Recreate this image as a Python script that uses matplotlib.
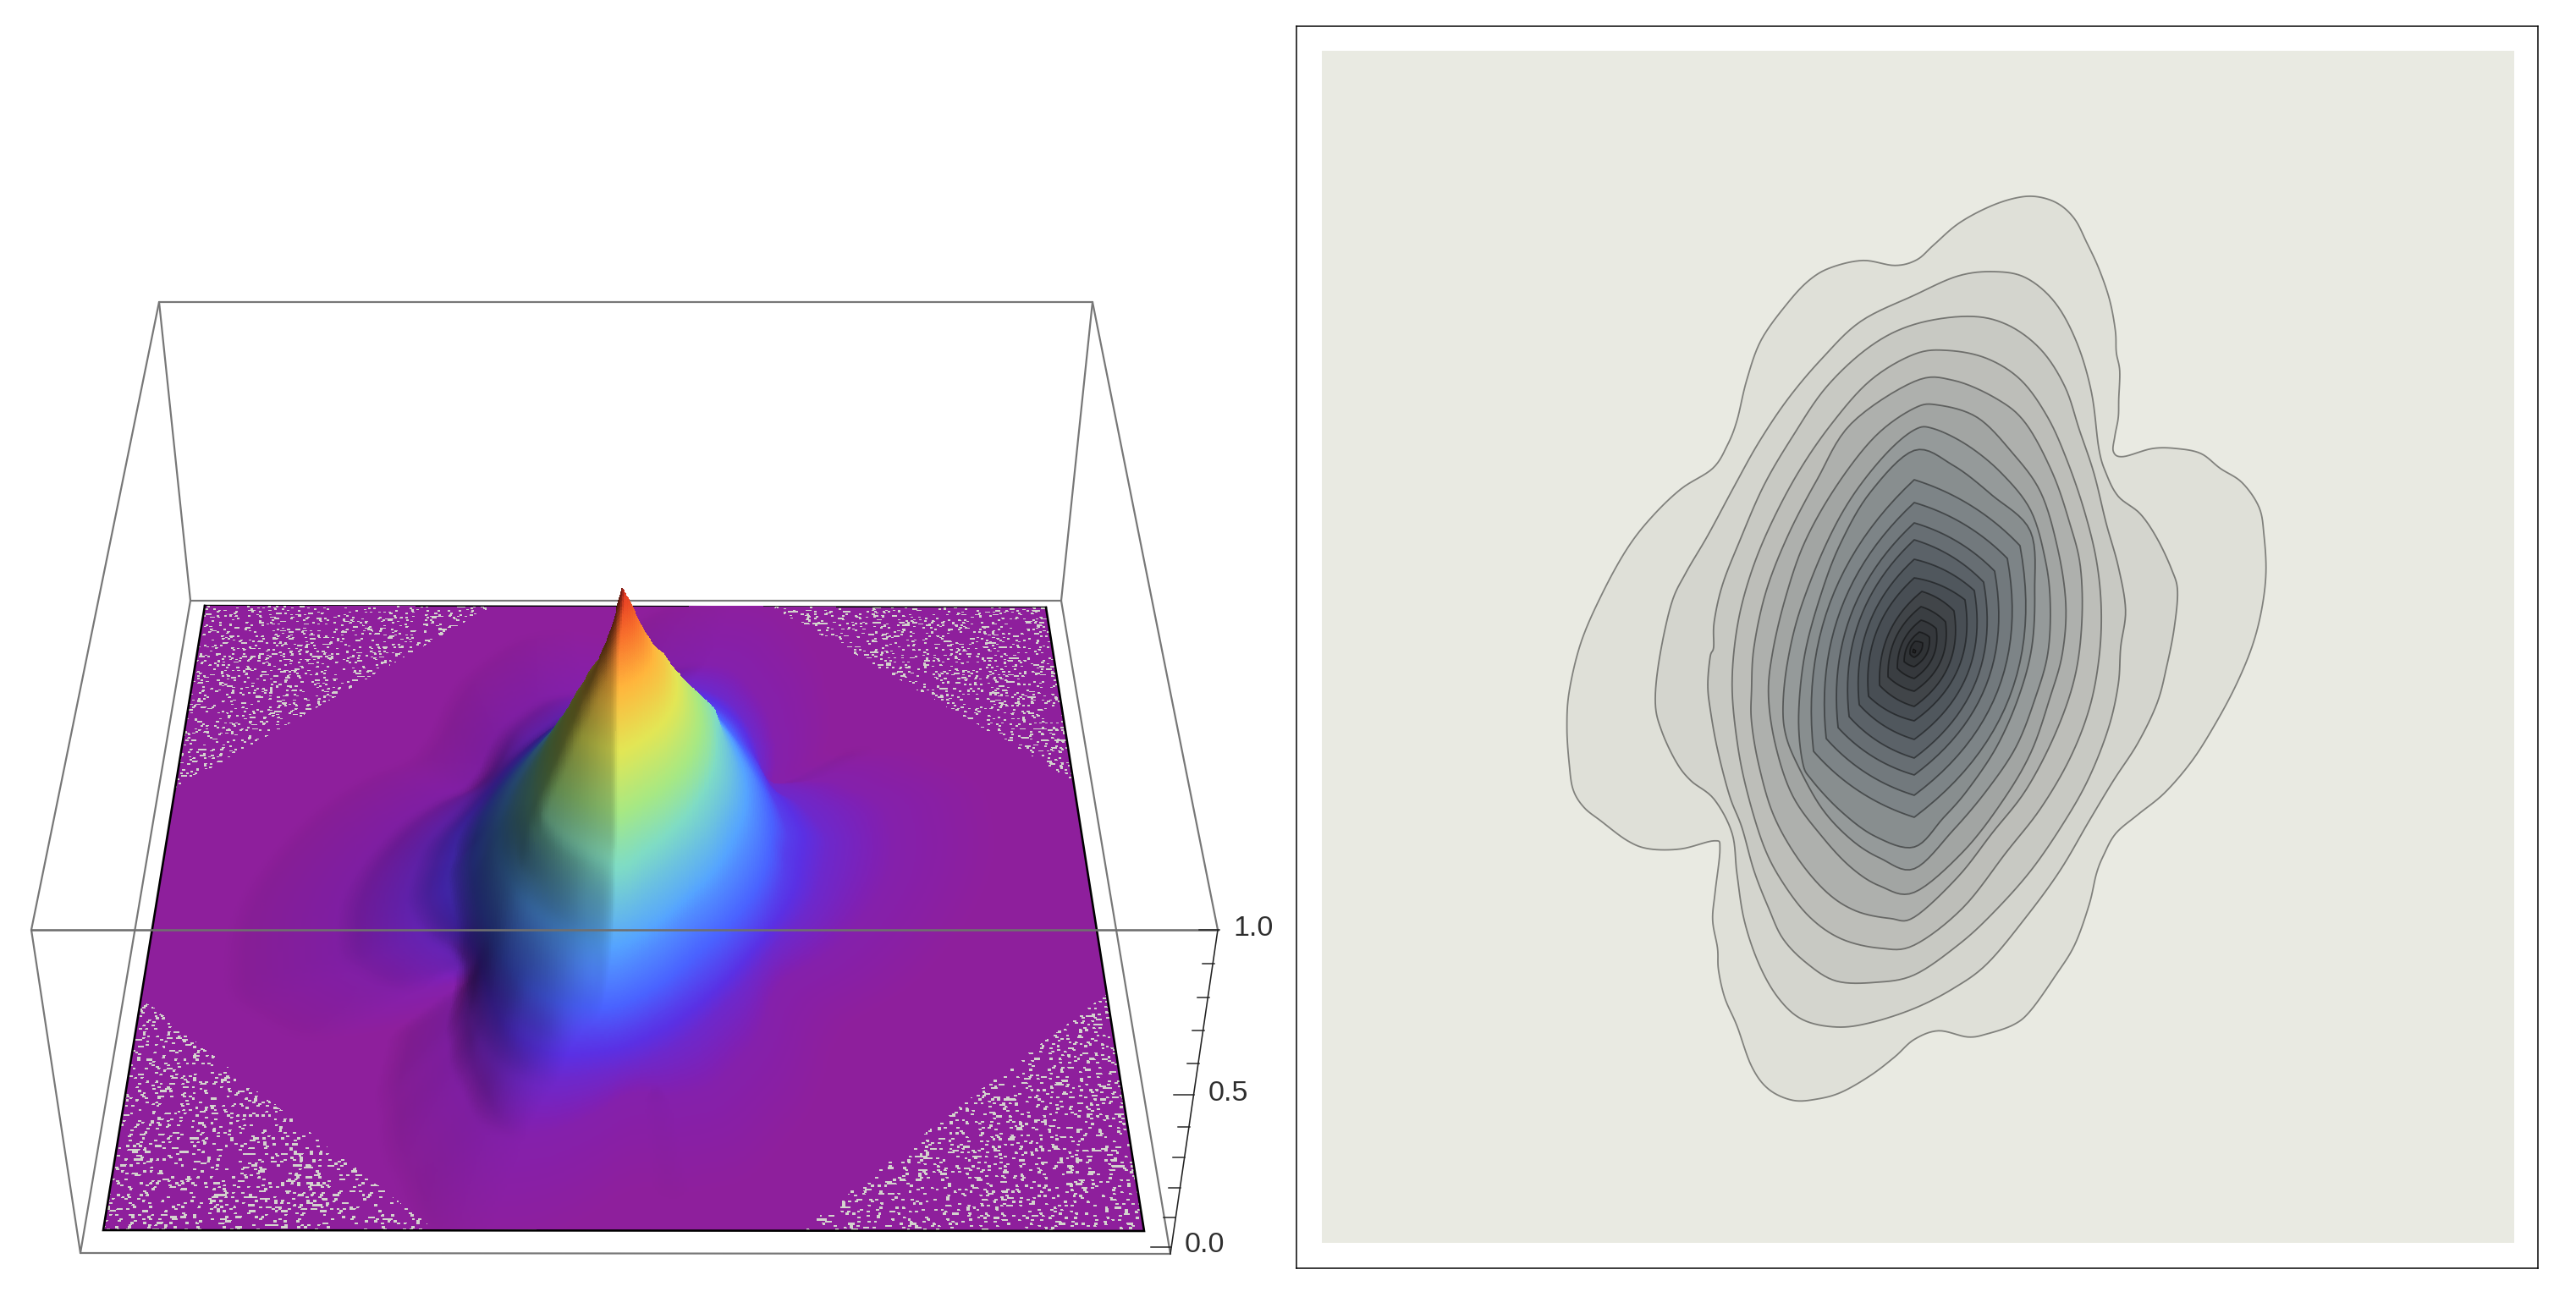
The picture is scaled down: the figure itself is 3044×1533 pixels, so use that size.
import numpy as np
import matplotlib
matplotlib.use("Agg")
import matplotlib.pyplot as plt
from matplotlib.colors import LinearSegmentedColormap

# ---------- values ----------
# Outer density contours, read as (x, y) on a 900x1150 crop stretched to a square
CONTOUR_1 = [(555,178),(600,158),(665,147),(730,155),(775,146),(810,122),(860,88),(920,62),(975,47),(1020,44),(1065,55),(1100,80),(1125,118),(1150,160),(1172,210),(1184,260),(1186,295),(1193,325),(1191,370),(1190,400),(1183,430),(1180,455),(1200,463),(1260,450),(1310,450),(1360,458),(1400,482),(1445,505),(1480,545),(1490,590),(1494,650),(1485,710),(1465,770),(1430,835),(1385,900),(1340,955),(1285,1005),(1230,1040),(1185,1070),(1160,1105),(1145,1135),(1130,1185),(1100,1250),(1060,1300),(1010,1355),(975,1378),(920,1393),(880,1398),(820,1388),(770,1402),(730,1430),(680,1460),(620,1487),(570,1498),(520,1500),(470,1482),(435,1445),(405,1380),(380,1335),(367,1290),(365,1255),(355,1210),(360,1165),(370,1095),(358,1082),(290,1095),(225,1095),(180,1082),(125,1050),(90,1028),(68,1000),(60,960),(55,900),(60,840),(85,760),(130,680),(180,610),(230,560),(290,515),(355,482),(385,445),(405,405),(425,340),(455,275),(510,215)]
CONTOUR_2 = [(237,860),(245,790),(270,700),(300,650),(345,590),(400,510),(450,440),(510,370),(580,305),(660,245),(770,203),(860,172),(935,165),(1000,175),(1060,215),(1105,280),(1135,360),(1150,450),(1165,490),(1190,527),(1235,555),(1270,595),(1300,645),(1312,680),(1305,740),(1290,800),(1270,860),(1230,925),(1180,985),(1130,1050),(1070,1130),(1000,1205),(920,1280),(850,1320),(770,1352),(680,1375),(610,1382),(540,1370),(490,1335),(450,1280),(420,1210),(405,1135),(395,1070),(358,1015),(310,985),(280,955),(250,905)]
CONTOUR_3 = [(345,830),(350,785),(357,770),(358,730),(375,670),(410,600),(460,510),(520,430),(590,350),(680,285),(770,250),(880,237),(960,250),(1030,290),(1080,350),(1110,420),(1140,490),(1165,570),(1190,640),(1205,710),(1195,770),(1190,830),(1170,900),(1130,980),(1080,1050),(1010,1130),(930,1200),(860,1250),(770,1298),(690,1310),(610,1308),(550,1280),(500,1240),(470,1190),(440,1130),(415,1060),(390,1010),(365,935),(350,870)]
CONTOUR_4 = [(395,830),(405,740),(430,660),(470,580),(530,490),(600,410),(680,340),(770,298),(840,292),(920,305),(990,340),(1045,400),(1085,470),(1120,550),(1145,630),(1155,710),(1150,790),(1130,870),(1090,950),(1030,1030),(960,1100),(870,1190),(770,1250),(700,1255),(620,1240),(555,1205),(500,1150),(460,1090),(425,1000),(405,920)]
CONTOUR_5 = [(435,840),(440,770),(465,680),(510,590),(570,500),(640,410),(770,342),(850,340),(940,370),(1000,410),(1055,490),(1090,570),(1112,640),(1115,730),(1100,820),(1060,910),(1000,1000),(930,1070),(860,1140),(770,1205),(720,1207),(650,1195),(590,1165),(530,1110),(480,1040),(450,960),(435,890)]
CONTOUR_6 = [(470,850),(478,780),(505,690),(545,600),(610,510),(690,430),(770,385),(820,380),(900,400),(970,455),(1030,520),(1065,610),(1082,700),(1075,780),(1050,850),(1010,940),(950,1020),(870,1100),(770,1165),(700,1155),(640,1125),(580,1075),(520,1010),(485,930)]
CONTOUR_7 = [(500,860),(510,790),(535,710),(585,610),(640,530),(710,460),(770,420),(810,418),(880,445),(950,490),(1010,550),(1040,630),(1050,700),(1045,780),(1020,850),(980,930),(920,1000),(850,1065),(770,1127),(700,1110),(640,1080),(580,1030),(530,960),(505,910)]
CONTOUR_8 = [(532,880),(545,780),(580,680),(620,600),(680,520),(770,453),(850,477),(930,525),(1009,583),(1018,680),(1012,770),(985,850),(940,930),(880,1000),(830,1045),(770,1092),(690,1075),(620,1035),(560,985),(540,955)]

# Inner contours 9..19 have four corners (top, upper right, bottom, lower left)
INNER_TOP_X = [2262, 2262, 2262, 2262, 2262, 2262, 2271, 2270, 2270, 2268, 2263]
INNER_TOP_Y = [567, 594, 618, 638, 661, 683, 699, 717, 733, 747, 758]
INNER_RIGHT_X = [2387, 2372, 2357, 2344, 2333, 2322, 2309, 2299, 2288, 2280, 2272]
INNER_RIGHT_Y = [645, 660, 675, 688, 698, 709, 722, 735, 743, 753, 760]
INNER_BOTTOM_Y = [966, 940, 916, 896, 874, 852, 835, 817, 802, 788, 777]
INNER_LEFT_X = [2143, 2158, 2172, 2185, 2197, 2208, 2221, 2231, 2242, 2250, 2257]
INNER_LEFT_Y = [888, 873, 860, 847, 833, 823, 810, 800, 790, 782, 773]

CONTOUR_FILLS = ["#dfe0d8", "#d4d5ce", "#c8c9c3", "#bdbeb9", "#aeb0ad", "#a2a5a3", "#959a9a",
                 "#888e8f", "#7d8487", "#72797d", "#676e73", "#5b6268", "#50575d", "#484e54",
                 "#414549", "#3a3e42", "#35383c", "#303336", "#2b2d30"]

# Height of each contour, from the outermost inwards
CONTOUR_HEIGHTS = [0.02, 0.06, 0.11, 0.17, 0.23, 0.29, 0.35, 0.41, 0.46, 0.51, 0.56, 0.61,
                   0.65, 0.70, 0.74, 0.79, 0.84, 0.89, 0.94]

Z_TICKS = [0.0, 0.1, 0.2, 0.3, 0.4, 0.5, 0.6, 0.7, 0.8, 0.9, 1.0]
Z_TICK_LABELS = {0.0: "0.0", 0.5: "0.5", 1.0: "1.0"}

HEIGHT_STOPS = [0.0, 0.03, 0.09, 0.16, 0.27, 0.42, 0.51, 0.63, 0.755, 0.865, 1.0]
HEIGHT_COLORS = ["#8e1f9c", "#7f20b4", "#5a30e4", "#4a62ff", "#55a4ff", "#7fdcc4", "#a6e884",
                 "#e2e655", "#ffb53c", "#f8702c", "#df261f"]

# ---------- figure ----------
W, H = 3044, 1533
fig = plt.figure(figsize=(W / 100, H / 100), dpi=100, facecolor="white")
plt.rcParams["font.family"] = ["Liberation Sans", "DejaVu Sans"]
PX = 72 / 100


def pixel_axes(x0, y0, x1, y1):
    ax = fig.add_axes([x0 / W, 1 - y1 / H, (x1 - x0) / W, (y1 - y0) / H])
    ax.set_xlim(x0, x1)
    ax.set_ylim(y1, y0)
    ax.set_xticks([])
    ax.set_yticks([])
    return ax


def read_to_px(points):
    p = np.asarray(points, float)
    return np.column_stack([1820 + p[:, 0] / 1.742, 200 + p[:, 1] / 1.363])


def catmull_closed(p, n=8):
    t = np.linspace(0, 1, n, endpoint=False)[:, None]
    out = []
    for i in range(len(p)):
        a, b, c, d = p[i - 1], p[i], p[(i + 1) % len(p)], p[(i + 2) % len(p)]
        out.append(0.5 * (2 * b + (c - a) * t + (2 * a - 5 * b + 4 * c - d) * t ** 2
                          + (3 * b - a - 3 * c + d) * t ** 3))
    return np.vstack(out)


def bulged_edge(a, b, bulge, n=24):
    a, b = np.asarray(a, float), np.asarray(b, float)
    d = b - a
    normal = np.array([-d[1], d[0]])
    ctrl = (a + b) / 2 + bulge * normal
    t = np.linspace(0, 1, n, endpoint=False)[:, None]
    return (1 - t) ** 2 * a + 2 * t * (1 - t) * ctrl + t ** 2 * b


def inner_outline(i):
    top = (INNER_TOP_X[i], INNER_TOP_Y[i])
    right = (INNER_RIGHT_X[i], INNER_RIGHT_Y[i])
    bottom = (2262, INNER_BOTTOM_Y[i])
    left = (INNER_LEFT_X[i], INNER_LEFT_Y[i])
    return np.vstack([bulged_edge(top, right, -0.13), bulged_edge(right, bottom, -0.31),
                      bulged_edge(bottom, left, -0.14), bulged_edge(left, top, -0.25)])


outer = [CONTOUR_1, CONTOUR_2, CONTOUR_3, CONTOUR_4, CONTOUR_5, CONTOUR_6, CONTOUR_7, CONTOUR_8]
outlines = [catmull_closed(read_to_px(c)) for c in outer]
outlines += [inner_outline(i) for i in range(len(INNER_TOP_Y))]

# ---------- right panel ----------
PLOT_L, PLOT_R, PLOT_T, PLOT_B = 1562, 2971, 60, 1469
axr = pixel_axes(1532, 31, 2999, 1499)
for s in axr.spines.values():
    s.set_linewidth(1.5 * PX)
    s.set_color("black")
axr.fill_between([PLOT_L, PLOT_R], PLOT_T, PLOT_B, color="#e9eae2", lw=0)
for outline, colour in zip(outlines, CONTOUR_FILLS):
    axr.fill(outline[:, 0], outline[:, 1], facecolor=colour, edgecolor=(0, 0, 0, 0.43),
             lw=1.8 * PX, joinstyle="round")
axr.fill([2261, 2264, 2263, 2260], [767, 769, 772, 771], facecolor="#202123",
         edgecolor="#111111", lw=1 * PX)

# ---------- height field shared with the contours ----------
CENTER = np.array([2263.0, 771.0])
N_ANG = 1440
bins = (np.arange(N_ANG) + 0.5) / N_ANG * 2 * np.pi - np.pi
radii = []
for outline in outlines:
    d = outline - CENTER
    a = np.arctan2(d[:, 1], d[:, 0])
    r = np.hypot(d[:, 0], d[:, 1])
    o = np.argsort(a)
    radii.append(np.interp(bins, a[o], r[o], period=2 * np.pi))
radii = np.array(radii)
radii = np.vstack([radii[0] * 1.4, radii, np.full(N_ANG, 2.0), np.zeros(N_ANG)])
radii = np.minimum.accumulate(radii, axis=0)
levels = np.r_[0.0, CONTOUR_HEIGHTS, 0.975, 1.0]

NU, NV = 640, 760
u_edges = np.linspace(0, 1, NU + 1)
v_edges = np.linspace(1, 0, NV + 1)          # back row first, so the front paints over it
U, V = np.meshgrid(u_edges, v_edges)


def height_at(u, v):
    dx = PLOT_L + u * (PLOT_R - PLOT_L) - CENTER[0]
    dy = PLOT_B - v * (PLOT_B - PLOT_T) - CENTER[1]
    ang = np.arctan2(dy, dx)
    rad = np.hypot(dx, dy)
    idx = np.clip(((ang + np.pi) / (2 * np.pi) * N_ANG).astype(int), 0, N_ANG - 1)
    out = np.zeros_like(rad)
    for b in np.unique(idx):
        m = idx == b
        out[m] = np.interp(rad[m], radii[::-1, b], levels[::-1])
    return out


Z = height_at(U, V)


def box_blur(a, k):
    kernel = np.ones(2 * k + 1) / (2 * k + 1)
    pad = np.pad(a, k, mode="edge")
    pad = np.apply_along_axis(lambda x: np.convolve(x, kernel, mode="same"), 0, pad)
    pad = np.apply_along_axis(lambda x: np.convolve(x, kernel, mode="same"), 1, pad)
    return pad[k:-k, k:-k]


# ---------- perspective of the left panel ----------
FLOOR = np.array([[122, 1454], [1352, 1455], [1236, 718], [242, 716]], float)  # (u,v)=(0,0),(1,0),(1,1),(0,1)
src = np.array([[0, 0], [1, 0], [1, 1], [0, 1]], float)
A = []
b = []
for (a_u, a_v), (sx, sy) in zip(src, FLOOR):
    A.append([a_u, a_v, 1, 0, 0, 0, -a_u * sx, -a_v * sx])
    A.append([0, 0, 0, a_u, a_v, 1, -a_u * sy, -a_v * sy])
    b += [sx, sy]
h = np.linalg.solve(np.array(A), np.array(b))
VP = np.array([738.0, 5700.0])


def project(u, v, z):
    w = h[6] * u + h[7] * v + 1
    x = (h[0] * u + h[1] * v + h[2]) / w
    y = (h[3] * u + h[4] * v + h[5]) / w
    s = 1 / (1 - (0.0815 - 0.0155 * v) * z)
    return VP[0] + (x - VP[0]) * s, VP[1] + (y - VP[1]) * s


SX, SY = project(U, V, Z * 0.975)

# colour, lighting and the speckled corners
cmap = LinearSegmentedColormap.from_list("height", list(zip(HEIGHT_STOPS, HEIGHT_COLORS)), N=1024)
Zc = 0.25 * (Z[:-1, :-1] + Z[1:, :-1] + Z[:-1, 1:] + Z[1:, 1:])
rgb = cmap(Zc)[:, :, :3]
Zs = box_blur(Z, 7)
grad_u = np.gradient(Zs, axis=1)[:-1, :-1] * NU
grad_v = np.gradient(Zs, axis=0)[:-1, :-1] * NV
# Lambert term from a light on the right: faces leaning left go dark
q = 2.6
nx = -grad_u / q / np.sqrt(1 + (grad_u ** 2 + grad_v ** 2) / q ** 2)
shade = 1 + 0.74 * np.minimum(nx, 0)
rgb = rgb * shade[..., None]
rgb = np.clip(rgb, 0, 1)

Uc = 0.5 * (U[:-1, :-1] + U[1:, 1:])
Vc = 0.5 * (V[:-1, :-1] + V[1:, 1:])
limit = ((1 - Uc) * (1 - Vc) * 0.69 + Uc * (1 - Vc) * 0.66
         + (1 - Uc) * Vc * 0.647 + Uc * Vc * 0.686)
corner = np.abs(Uc - 0.5) + np.abs(Vc - 0.5) > limit
jj, ii = np.indices(Uc.shape)
row = jj // 2
shift = np.floor(np.abs(np.sin(row * 91.17) * 9871.3) % 5)
col = ((ii + shift) // 2).astype(int)
tex = np.abs(np.sin(col * 12.9898 + row * 78.233) * 43758.5453) % 1
rgb[corner & (tex > 0.84)] = matplotlib.colors.to_rgb("#d3d3cd")

# ---------- left panel ----------
axl = pixel_axes(0, 0, 1520, H)
axl.axis("off")
GRAY = "#777777"
BOX_LW = 2.2 * PX
BOX_BACK_LOW = [(225, 710), (1254, 710)]
BOX_BACK_TOP = [(188, 357), (1291, 357)]
BOX_FRONT_LOW = [(95, 1481), (1383, 1482)]
BOX_FRONT_TOP = [(37, 1099), (1439, 1099)]
for p, q2 in [(BOX_BACK_LOW[0], BOX_BACK_LOW[1]), (BOX_BACK_TOP[0], BOX_BACK_TOP[1]),
              (BOX_BACK_LOW[0], BOX_BACK_TOP[0]), (BOX_BACK_LOW[1], BOX_BACK_TOP[1]),
              (BOX_BACK_LOW[0], BOX_FRONT_LOW[0]), (BOX_BACK_LOW[1], BOX_FRONT_LOW[1]),
              (BOX_BACK_TOP[0], BOX_FRONT_TOP[0]), (BOX_BACK_TOP[1], BOX_FRONT_TOP[1]),
              (BOX_FRONT_LOW[0], BOX_FRONT_LOW[1]), (BOX_FRONT_LOW[0], BOX_FRONT_TOP[0])]:
    axl.plot([p[0], q2[0]], [p[1], q2[1]], color=GRAY, lw=BOX_LW, solid_capstyle="round", zorder=1)
axl.plot(FLOOR[2:, 0], FLOOR[2:, 1], color="black", lw=2.4 * PX, zorder=1.5)

axl.pcolormesh(SX, SY, rgb, shading="flat", linewidth=0, antialiased=False, rasterized=True, zorder=2)

axl.plot(FLOOR[[3, 0, 1, 2], 0], FLOOR[[3, 0, 1, 2], 1], color="black", lw=2.6 * PX, zorder=3,
         solid_joinstyle="miter")
axl.plot([BOX_FRONT_TOP[0][0], BOX_FRONT_TOP[1][0]], [BOX_FRONT_TOP[0][1], BOX_FRONT_TOP[1][1]],
         color="#6f6f6f", lw=2.6 * PX, zorder=4)

# z axis along the front right edge
axl.plot([BOX_FRONT_LOW[1][0], BOX_FRONT_TOP[1][0]], [BOX_FRONT_LOW[1][1], BOX_FRONT_TOP[1][1]],
         color="#222222", lw=1.6 * PX, zorder=5)


def axis_point(z):
    s = 1 / (1 - 0.0815 * z)
    return VP[0] + (1384 - VP[0]) * s, VP[1] + (1474 - VP[1]) * s


for z in Z_TICKS:
    x, y = axis_point(z)
    major = z in Z_TICK_LABELS
    axl.plot([x - (24 if major else 14), x], [y, y], color="#222222", lw=1.5 * PX, zorder=5)
    if major:
        axl.text(x + 16, y - 2, Z_TICK_LABELS[z], ha="left", va="center", fontsize=24.5,
                 color="#2e2e2e", family=["Liberation Sans", "DejaVu Sans"], zorder=6)

fig.savefig("out.png", dpi=100, facecolor="white")
